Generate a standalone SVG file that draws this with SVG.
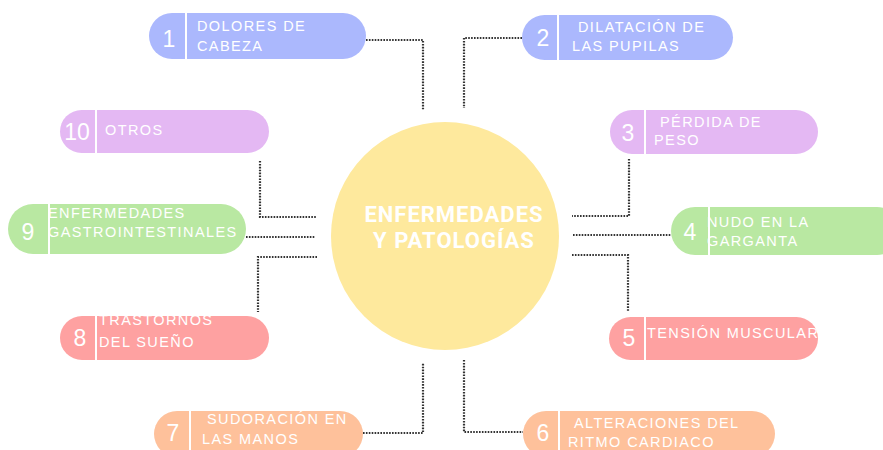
<svg xmlns="http://www.w3.org/2000/svg" width="883" height="450" viewBox="0 0 883 450">
<style>
.lbl{font-family:"Liberation Sans",Arial,sans-serif;font-size:14.5px;letter-spacing:1.4px;fill:#ffffff}
.num{font-family:"Liberation Sans",Arial,sans-serif;font-size:23px;fill:#ffffff;text-anchor:middle}
.div{stroke:#ffffff;stroke-width:2}
.conn{fill:none;stroke:#333333;stroke-width:2.2;stroke-dasharray:1.6 1.3}
.blue{fill:#abb8fd}.purple{fill:#e4b8f3}.green{fill:#b9e8a2}.red{fill:#fea1a1}.orange{fill:#fec19b}
.title{font-family:Roboto,"Liberation Sans",Arial,sans-serif;font-size:22px;letter-spacing:1px;font-weight:bold;fill:#ffffff;text-anchor:middle}
</style>
<rect width="883" height="450" fill="#ffffff"/>
<g id="connectors">
<polyline class="conn" points="366,40 423,40 423,110"/>
<polyline class="conn" points="522,38 464,38 464,108"/>
<polyline class="conn" points="260,161 260,217 317,217"/>
<polyline class="conn" points="246,237 315,237"/>
<polyline class="conn" points="317,257 258,257 258,312"/>
<polyline class="conn" points="629,159 629,216 572,216"/>
<polyline class="conn" points="573,235 671,235"/>
<polyline class="conn" points="572,255 628,255 628,311"/>
<polyline class="conn" points="363,433 423,433 423,363"/>
<polyline class="conn" points="464,360 464,432 523,432"/>
</g>
<g id="center">
<circle cx="445" cy="236" r="114" fill="#fee99d"/>
<text class="title" x="454" y="222">ENFERMEDADES</text>
<text class="title" x="454" y="248">Y PATOLOGÍAS</text>
</g>
<g id="node1">
<rect class="blue" x="149" y="13" width="217" height="46" rx="23"/>
<line class="div" x1="186" y1="13" x2="186" y2="59"/>
<text class="num" x="169" y="47">1</text>
<text class="lbl" x="197" y="31">DOLORES DE</text>
<text class="lbl" x="197" y="51">CABEZA</text>
</g>
<g id="node2">
<rect class="blue" x="522" y="15" width="211" height="45" rx="22.5"/>
<line class="div" x1="558" y1="15" x2="558" y2="60"/>
<text class="num" x="543" y="46">2</text>
<text class="lbl" x="578" y="32">DILATACIÓN DE</text>
<text class="lbl" x="572" y="51">LAS PUPILAS</text>
</g>
<g id="node3">
<rect class="purple" x="610" y="110" width="208" height="44" rx="22"/>
<line class="div" x1="645" y1="110" x2="645" y2="154"/>
<text class="num" x="628" y="141">3</text>
<text class="lbl" x="660" y="127">PÉRDIDA DE</text>
<text class="lbl" x="654" y="145">PESO</text>
</g>
<g id="node4">
<rect class="green" x="671" y="207" width="230" height="48" rx="24"/>
<line class="div" x1="709" y1="207" x2="709" y2="255"/>
<text class="num" x="690" y="240">4</text>
<text class="lbl" x="707" y="227">NUDO EN LA</text>
<text class="lbl" x="707" y="246">GARGANTA</text>
</g>
<g id="node5">
<rect class="red" x="609" y="317" width="209" height="43" rx="21.5"/>
<line class="div" x1="645" y1="317" x2="645" y2="360"/>
<text class="num" x="629" y="346">5</text>
<text class="lbl" x="647" y="338">TENSIÓN MUSCULAR</text>
</g>
<g id="node6">
<rect class="orange" x="523" y="411" width="252" height="46" rx="23"/>
<line class="div" x1="559" y1="411" x2="559" y2="457"/>
<text class="num" x="543" y="441">6</text>
<text class="lbl" x="574" y="428">ALTERACIONES DEL</text>
<text class="lbl" x="568" y="447">RITMO CARDIACO</text>
</g>
<g id="node7">
<rect class="orange" x="154" y="411" width="209" height="46" rx="23"/>
<line class="div" x1="190" y1="411" x2="190" y2="457"/>
<text class="num" x="173" y="441">7</text>
<text class="lbl" x="207" y="424">SUDORACIÓN EN</text>
<text class="lbl" x="202" y="444">LAS MANOS</text>
</g>
<g id="node8">
<rect class="red" x="60" y="316" width="209" height="44" rx="22"/>
<line class="div" x1="96" y1="316" x2="96" y2="360"/>
<text class="num" x="80" y="346">8</text>
<text class="lbl" x="99" y="325">TRASTORNOS</text>
<text class="lbl" x="99" y="347">DEL SUEÑO</text>
</g>
<g id="node9">
<rect class="green" x="8" y="204" width="238" height="50" rx="25"/>
<line class="div" x1="49" y1="204" x2="49" y2="254"/>
<text class="num" x="28" y="240">9</text>
<text class="lbl" x="48" y="218">ENFERMEDADES</text>
<text class="lbl" x="48" y="237">GASTROINTESTINALES</text>
</g>
<g id="node10">
<rect class="purple" x="60" y="110" width="209" height="43" rx="21.5"/>
<line class="div" x1="96" y1="110" x2="96" y2="153"/>
<text class="num" x="77" y="140">10</text>
<text class="lbl" x="105" y="135">OTROS</text>
</g>
</svg>
